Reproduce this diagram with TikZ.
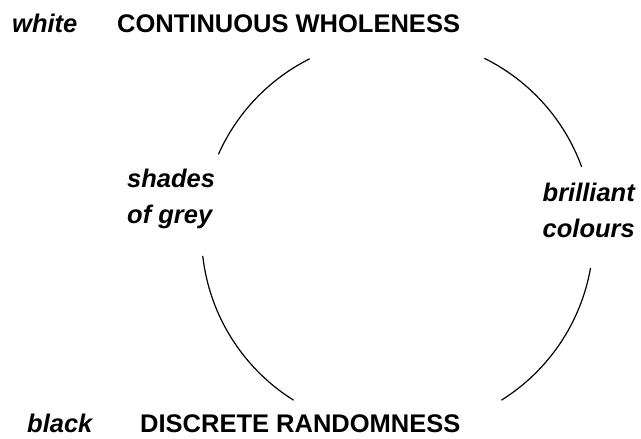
\documentclass[tikz,border=0pt]{standalone}
\usepackage{fontspec}
\setmainfont{Liberation Sans}
\begin{document}
\begin{tikzpicture}[x=1pt,y=1pt,
  lbl/.style={inner sep=0pt,font=\fontsize{25.5}{36}\selectfont\bfseries\itshape},
  ttl/.style={inner sep=0pt,font=\fontsize{25.5}{36}\selectfont\bfseries},
  arcline/.style={line width=1.2pt}]
\useasboundingbox (0,0) rectangle (641,439);
\coordinate (c) at (397.5,205);
\node[lbl,anchor=base west] (white) at (12,406) {white};
\node[ttl,anchor=base west] (cw) at (117,406) {CONTINUOUS WHOLENESS};
\node[lbl,anchor=base west] (black) at (27,6) {black};
\node[ttl,anchor=base west] (dr) at (140,6) {DISCRETE RANDOMNESS};
\node[lbl,anchor=base west,align=left] (grey) at (127,215) {shades\\of grey};
\node[lbl,anchor=base east,align=right] (col) at (635,201.5) {brilliant\\colours};
\draw[arcline] (c) ++(116.6:196) arc[start angle=116.6,end angle=156,radius=196];
\draw[arcline] (c) ++(63.7:196) arc[start angle=63.7,end angle=20,radius=196];
\draw[arcline] (c) ++(186.4:196) arc[start angle=186.4,end angle=238,radius=196];
\draw[arcline] (c) ++(-10:196) arc[start angle=-10,end angle=-58,radius=196];
\end{tikzpicture}
\end{document}
